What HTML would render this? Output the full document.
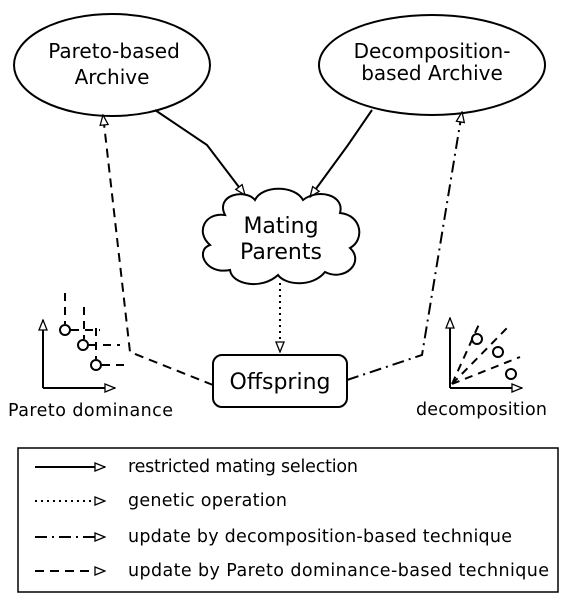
<!DOCTYPE html>
<html><head><style>body{margin:0;background:#fff}svg{display:block}text{font-family:"DejaVu Sans","Liberation Sans",sans-serif;fill:#000}</style></head><body>
<svg width="570" height="603" viewBox="0 0 570 603" xmlns="http://www.w3.org/2000/svg">
<defs><marker id="a" markerWidth="12" markerHeight="10" refX="11" refY="5" orient="auto" markerUnits="userSpaceOnUse"><path d="M1,1 L11,5 L1,9 Z" fill="#fff" stroke="#000" stroke-width="1.3"/></marker></defs>
<g fill="none" stroke="#000" stroke-width="2">
<ellipse cx="112" cy="65" rx="98" ry="51"/>
<ellipse cx="432" cy="65" rx="113" ry="50"/>
<path d="M155,110 L207,145 L245,195" marker-end="url(#a)"/>
<path d="M372,110 L348,145 L310,197" marker-end="url(#a)"/>
<path d="M225,215 C215,195 245,188 255,200 C262,185 295,185 303,200 C318,188 345,195 340,213 C362,215 365,240 350,248 C365,262 345,282 325,272 C312,288 285,285 278,275 C262,290 232,285 230,270 C205,275 195,250 210,245 C195,232 205,212 225,215 Z"/>
<path d="M280,283 L280,352" stroke-dasharray="2,4" marker-end="url(#a)"/>
<rect x="213" y="355" width="134" height="52" rx="9"/>
<path d="M213,385 L130,352 L103,115" stroke-dasharray="9,6" marker-end="url(#a)"/>
<path d="M347,380 L422,355 L462,112" stroke-dasharray="12,5,2,5" marker-end="url(#a)"/>
<path d="M43,388 L43,320" marker-end="url(#a)"/>
<path d="M43,388 L115,388" marker-end="url(#a)"/>
<circle cx="65" cy="330" r="5"/><circle cx="83" cy="345" r="5"/><circle cx="96" cy="365" r="5"/>
<g stroke-dasharray="8,6">
<path d="M65,293 L65,324 M84,307 L84,339 M96,328 L96,359 M71,330 L100,330 M89,345 L120,345 M102,365 L130,365"/>
<path d="M452,384 L480,322 M452,384 L508,327 M452,384 L520,357"/>
</g>
<path d="M450,388 L450,318" marker-end="url(#a)"/>
<path d="M450,388 L522,388" marker-end="url(#a)"/>
<circle cx="477" cy="339" r="5" fill="#fff"/><circle cx="498" cy="352" r="5" fill="#fff"/><circle cx="511" cy="374" r="5" fill="#fff"/>
<rect x="18" y="448" width="540" height="144" stroke-width="1.5"/>
<path d="M35,467 L105,467" marker-end="url(#a)"/>
<path d="M35,501 L105,501" stroke-dasharray="2,4" marker-end="url(#a)"/>
<path d="M35,537 L105,537" stroke-dasharray="12,5,2,5" marker-end="url(#a)"/>
<path d="M35,571 L105,571" stroke-dasharray="9,6" marker-end="url(#a)"/>
</g>
<g style="font-size:20px" text-anchor="middle">
<text x="114" y="58">Pareto-based</text><text x="112" y="84">Archive</text>
<text x="432" y="58">Decomposition-</text><text x="432" y="80">based Archive</text>
</g>
<g style="font-size:22px" text-anchor="middle">
<text x="281" y="233">Mating</text><text x="281" y="259">Parents</text>
<text x="280" y="389">Offspring</text>
</g>
<g style="font-size:17.5px">
<text x="8" y="416" textLength="165">Pareto dominance</text>
<text x="416" y="415" textLength="131">decomposition</text>
<text x="128" y="472" textLength="230">restricted mating selection</text>
<text x="128" y="506" textLength="159">genetic operation</text>
<text x="128" y="542" textLength="384">update by decomposition-based technique</text>
<text x="128" y="576" textLength="421">update by  Pareto dominance-based technique</text>
</g>
</svg>
</body></html>
